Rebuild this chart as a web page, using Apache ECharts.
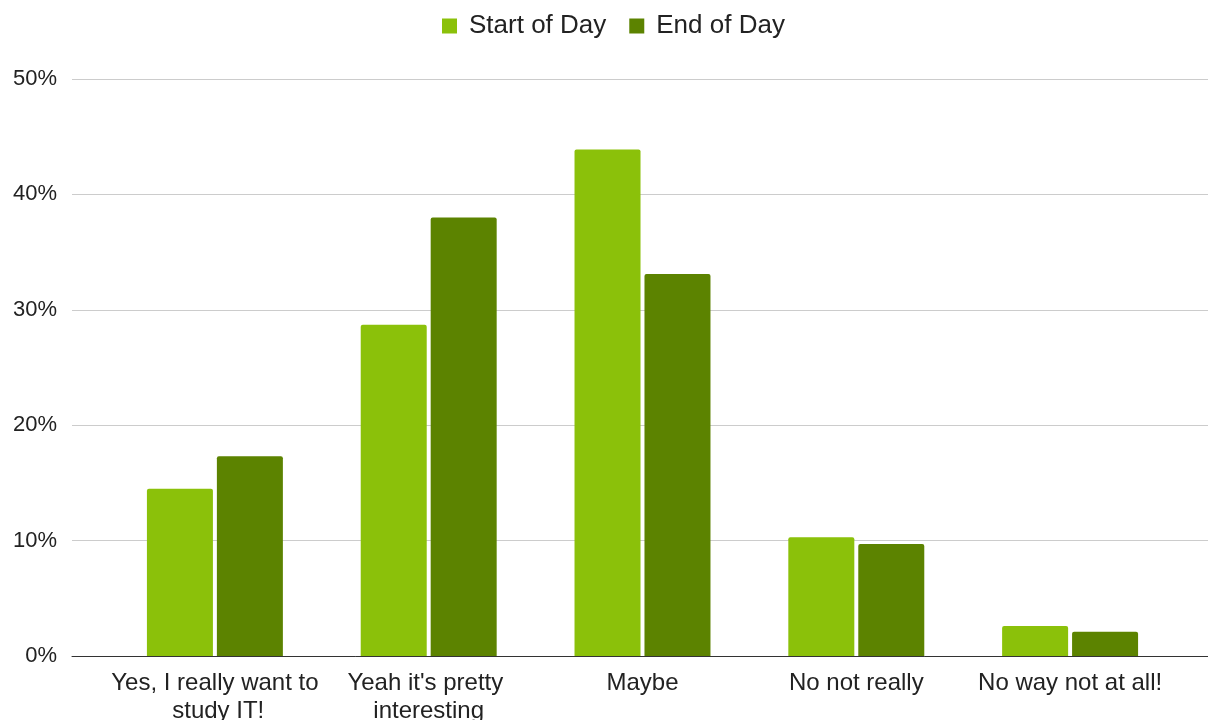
<!DOCTYPE html>
<html>
<head>
<meta charset="utf-8">
<script src="https://cdn.jsdelivr.net/npm/echarts@6/dist/echarts.min.js"></script>
<style>
html, body { margin: 0; padding: 0; background: #fff; }
#main { width: 1208px; height: 720px; }
</style>
</head>
<body>
<div id="main"></div>
<script>
var categories = ['Yes, I really want to study IT!', "Yeah it's pretty interesting", 'Maybe', 'No not really', 'No way not at all!'];
var startOfDay = [14.5, 28.7, 43.9, 10.3, 2.6];
var endOfDay = [17.3, 38.0, 33.1, 9.7, 2.1];
var yTicks = [0, 10, 20, 30, 40, 50];

var fontFamily = "'Liberation Sans', Arial, sans-serif";

var option = {
	animation : false,
	textStyle : { fontFamily : fontFamily },
	legend : {
		top : 8,
		left : 437,
		itemWidth : 15,
		itemHeight : 15,
		itemGap : 23,
		icon : 'rect',
		textStyle : { fontSize : 26, color : '#222', fontFamily : fontFamily, padding : [ 0, 0, 0, 7 ] },
		data : [ 'Start of Day', 'End of Day' ]
	},
	grid : [ {
		left : 72, right : 0, top : 79, bottom : 64,
		containLabel : false, outerBoundsMode : 'none'
	}, {
		left : 108, right : 31, top : 79, bottom : 64,
		containLabel : false, outerBoundsMode : 'none'
	} ],
	xAxis : [ {
		gridIndex : 0,
		type : 'category',
		data : [ '' ],
		axisLine : { show : true, lineStyle : { color : '#333', width : 1 } },
		axisTick : { show : false },
		axisLabel : { show : false }
	}, {
		gridIndex : 1,
		type : 'category',
		data : categories,
		axisLine : { show : false },
		axisTick : { show : false },
		axisLabel : {
			fontSize : 24,
			fontFamily : fontFamily,
			color : '#222',
			margin : 13,
			lineHeight : 28,
			width : 214,
			overflow : 'break',
			interval : 0
		}
	} ],
	yAxis : [ {
		gridIndex : 0,
		type : 'value',
		min : yTicks[0],
		max : yTicks[yTicks.length - 1],
		interval : 10,
		axisLine : { show : false },
		axisTick : { show : false },
		axisLabel : {
			fontSize : 22,
			fontFamily : fontFamily,
			color : '#222',
			margin : 15,
			formatter : '{value}%'
		},
		splitLine : { lineStyle : { color : '#cccccc', width : 1 } }
	}, {
		gridIndex : 1,
		type : 'value',
		min : yTicks[0],
		max : yTicks[yTicks.length - 1],
		interval : 10,
		show : false,
		splitLine : { show : false }
	} ],
	series : [ {
		name : 'Start of Day',
		type : 'bar',
		xAxisIndex : 1,
		yAxisIndex : 1,
		data : startOfDay,
		barWidth : 66,
		barGap : '6%',
		itemStyle : { color : '#8bc10a', borderRadius : [ 2, 2, 0, 0 ] }
	}, {
		name : 'End of Day',
		type : 'bar',
		xAxisIndex : 1,
		yAxisIndex : 1,
		data : endOfDay,
		barWidth : 66,
		barGap : '6%',
		itemStyle : { color : '#5c8300', borderRadius : [ 2, 2, 0, 0 ] }
	} ]
};

var myChart = echarts.init(document.getElementById('main'));
myChart.setOption(option);
</script>
</body>
</html>
